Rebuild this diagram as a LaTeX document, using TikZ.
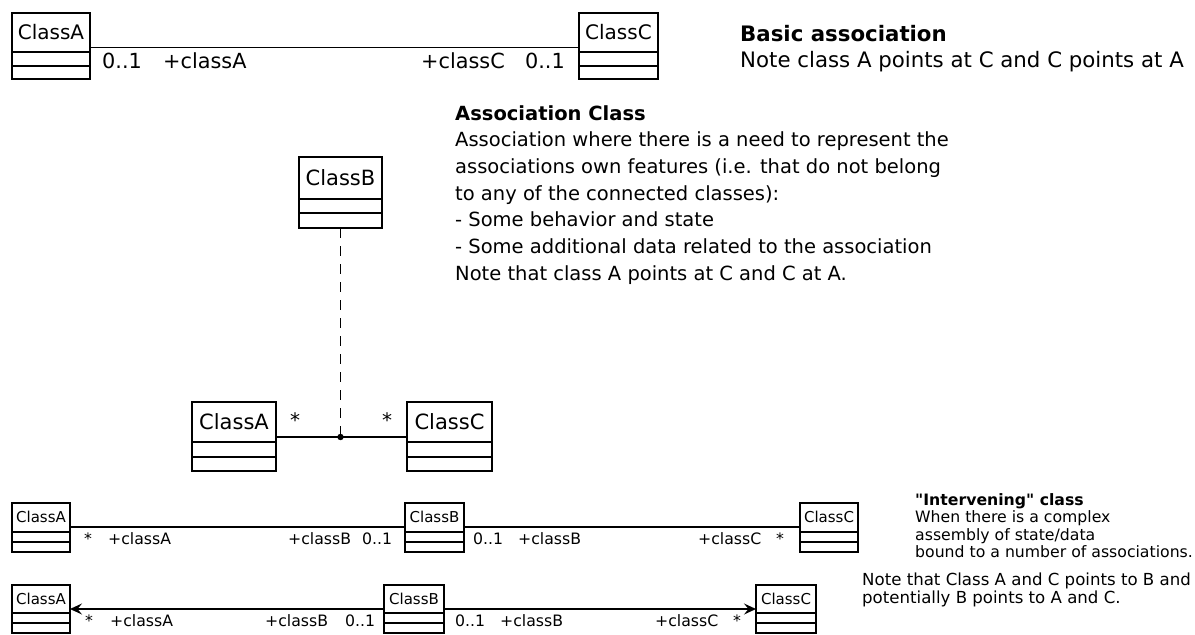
\documentclass[tikz,border=0pt]{standalone}
\usepackage{fontspec}
\setmainfont{DejaVu Sans}[Ligatures=TeXOff]
\usetikzlibrary{arrows.meta}
\tikzset{
  box/.style={draw, line width=1.8pt, inner sep=0pt, outer sep=0pt},
  comp/.style={line width=1.8pt},
  assoc/.style={line width=1.4pt},
  txt/.style={inner sep=0pt, anchor=base west},
  lbl/.style={inner sep=0pt, anchor=base west},
  star/.style={inner sep=0pt, anchor=base},
  head/.style={-{Stealth[length=12pt,width=11pt,inset=4.5pt]}},
}
% #1 name, #2 x1, #3 y1, #4 x2, #5 title bottom, #6 mid, #7 y2, #8 font size, #9 text
\newcommand\umlcls[9]{%
  \node[box, anchor=north west, minimum width={(#4-#2)*1pt}, minimum height={(#7-#3)*1pt}] (#1) at (#2,#3) {};
  \draw[comp] (#2,#5) -- (#4,#5) (#2,#6) -- (#4,#6);
  \node[inner sep=0pt, anchor=base, font=\fontsize{#8}{#8}\selectfont] (#1t) at ({(#2+#4)/2},{(#3+#5)/2+0.364*#8}) {#9};
}
\begin{document}
\begin{tikzpicture}[x=1pt,y=-1pt]
\useasboundingbox (0,0) rectangle (1195,635);
% ---------- basic association ----------
\umlcls{a1}{12}{13}{90}{52}{66}{79}{20}{ClassA}
\umlcls{c1}{579}{13}{658}{52}{66}{79}{20}{ClassC}
\coordinate (y1) at (0,47.5);
\draw[assoc] (a1.east |- y1) -- (c1.west |- y1);
\begin{scope}[font=\fontsize{20.8}{20.8}\selectfont]
\node[lbl] (m1) at (102,68) {0..1};
\node[lbl] (r1) at (163,68) {+classA};
\node[lbl] (r2) at (421,68) {+classC};
\node[lbl, anchor=base east] (m2) at (565,68) {0..1};
\end{scope}
\begin{scope}[font=\fontsize{21.3}{21.3}\selectfont]
\node[txt] (t1) at (740,41.5) {\bfseries Basic association};
\node[txt] (t2) at (740,67.5) {Note class A points at C and C points at A};
\end{scope}
% ---------- association class ----------
\umlcls{b2}{299}{157}{382}{199}{213}{228}{21}{ClassB}
\umlcls{a2}{192}{402}{276}{442}{457}{471}{21}{ClassA}
\umlcls{c2}{407}{402}{492}{442}{457}{471}{21}{ClassC}
\coordinate (y2) at (0,437);
\coordinate (dot) at (340.5,437);
\draw[assoc] (a2.east |- y2) -- (c2.west |- y2);
\draw[assoc, dash pattern=on 10pt off 8pt] (b2.south -| dot) -- (dot);
\fill (dot) circle (3.2pt);
\begin{scope}[font=\fontsize{20}{20}\selectfont]
\node[star] (s1) at (295,427.5) {*};
\node[star] (s2) at (387,427.5) {*};
\end{scope}
\begin{scope}[font=\fontsize{19.5}{19.5}\selectfont]
\node[txt] (u1) at (455,120) {\bfseries Association Class};
\node[txt] (u2) at (455,146.7) {Association where there is a need to represent the};
\node[txt] (u3) at (455,173.3) {associations own features (i.e. that do not belong};
\node[txt] (u4) at (455,200) {to any of the connected classes):};
\node[txt] (u5) at (455,226.7) {- Some behavior and state};
\node[txt] (u6) at (455,253.3) {- Some additional data related to the association};
\node[txt] (u7) at (455,280) {Note that class A points at C and C at A.};
\end{scope}
% ---------- intervening class, row 1 ----------
\umlcls{a3}{12}{503}{70}{532}{542}{552}{15}{ClassA}
\umlcls{b3}{405}{503}{464}{532}{542}{552}{15}{ClassB}
\umlcls{c3}{800}{503}{858}{532}{542}{552}{15}{ClassC}
\coordinate (y3) at (0,527);
\draw[assoc] (a3.east |- y3) -- (b3.west |- y3);
\draw[assoc] (b3.east |- y3) -- (c3.west |- y3);
\begin{scope}[font=\fontsize{15.7}{15.7}\selectfont]
\node[star] (s3) at (88,544) {*};
\node[lbl] (l31) at (108,544) {+classA};
\node[lbl] (l32) at (288,544) {+classB};
\node[lbl] (l33) at (362,544) {0..1};
\node[lbl] (l34) at (473,544) {0..1};
\node[lbl] (l35) at (518,544) {+classB};
\node[lbl] (l36) at (698,544) {+classC};
\node[star] (s4) at (780,544) {*};
\end{scope}
% ---------- intervening class, row 2 ----------
\umlcls{a4}{12}{585}{70}{613}{623}{633}{15}{ClassA}
\umlcls{b4}{384}{585}{444}{613}{623}{633}{15}{ClassB}
\umlcls{c4}{756}{585}{816}{613}{623}{633}{15}{ClassC}
\coordinate (y4) at (0,609);
\draw[assoc, head] (b4.west |- y4) -- (a4.east |- y4);
\draw[assoc, head] (b4.east |- y4) -- (c4.west |- y4);
\begin{scope}[font=\fontsize{15.7}{15.7}\selectfont]
\node[star] (s5) at (89,626) {*};
\node[lbl] (l41) at (110,626) {+classA};
\node[lbl] (l42) at (265,626) {+classB};
\node[lbl] (l43) at (345,626) {0..1};
\node[lbl] (l44) at (455,626) {0..1};
\node[lbl] (l45) at (500,626) {+classB};
\node[lbl] (l46) at (655,626) {+classC};
\node[star] (s6) at (737,626) {*};
\end{scope}
% ---------- notes ----------
\begin{scope}[font=\fontsize{15.7}{15.7}\selectfont]
\node[txt] (v1) at (915,505) {\bfseries "Intervening" class};
\node[txt] (v2) at (915,522.5) {When there is a complex};
\node[txt] (v3) at (915,540) {assembly of state/data};
\node[txt] (v4) at (915,557.5) {bound to a number of associations.};
\end{scope}
\begin{scope}[font=\fontsize{16.6}{16.6}\selectfont]
\node[txt] (w1) at (862,585.5) {Note that Class A and C points to B and};
\node[txt] (w2) at (862,603) {potentially B points to A and C.};
\end{scope}
\end{tikzpicture}
\end{document}
